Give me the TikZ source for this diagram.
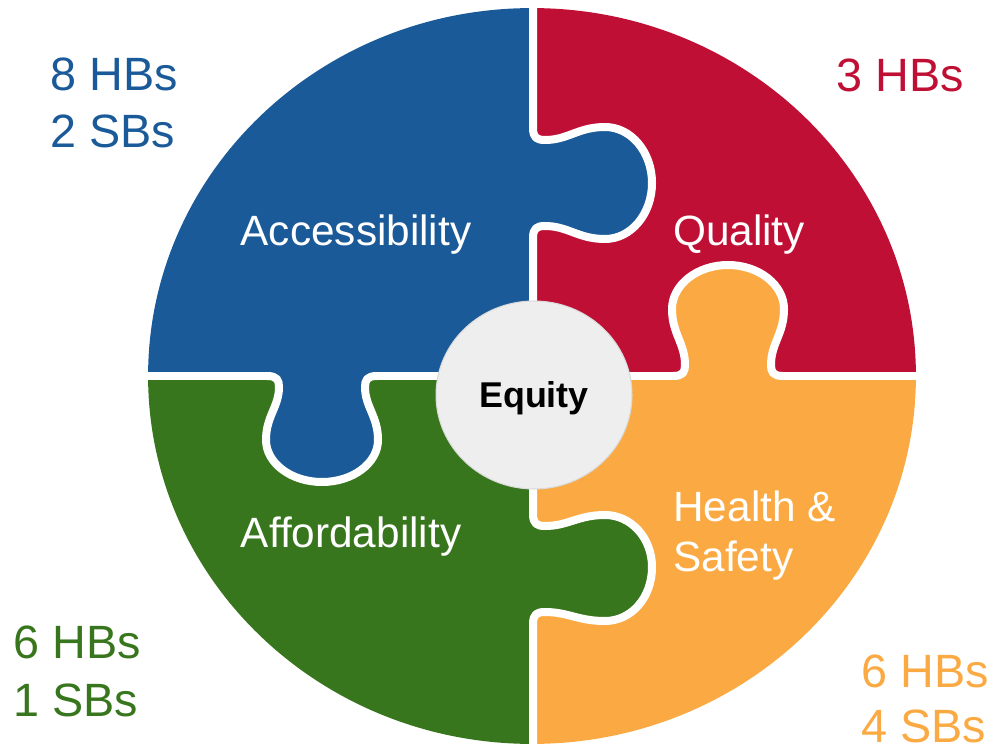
\documentclass[tikz,border=0pt]{standalone}
\usepackage{fontspec}
\setmainfont{Liberation Sans}
\usetikzlibrary{shapes.geometric}
\definecolor{accblue}{RGB}{27,90,152}
\definecolor{qualred}{RGB}{192,15,53}
\definecolor{affgreen}{RGB}{56,118,30}
\definecolor{hsorange}{RGB}{251,170,67}
\definecolor{eqgrey}{RGB}{238,238,238}
\definecolor{eqline}{RGB}{218,218,218}
\begin{document}
\begin{tikzpicture}[x=0.02cm,y=-0.02cm,
	cut/.style={draw=white,line width=0.16cm,line join=round},
	piece/.style={text=white,inner sep=0pt,font=\fontsize{24.1}{28.3}\selectfont},
	count/.style={inner sep=0pt,align=left,font=\fontsize{26.6}{32.5}\selectfont}]
	\useasboundingbox (0,0) rectangle (996,749);
	
	\begin{scope}
		\clip (532,376) ellipse (7.68cm and 7.36cm);
		%quarters
		\fill[accblue] (0,0) rectangle (533,376);
		\fill[qualred] (533,0) rectangle (996,376);
		\fill[affgreen] (0,376) rectangle (533,749);
		\fill[hsorange] (533,376) rectangle (996,749);
		
		%tabs
		\fill[accblue] (533,-20) -- (533,128) .. controls (533,138) and (537,140) .. (545,140) 
		.. controls (568,140) and (578,127) .. (605,127) .. controls (631,127) and (652,152) .. (652,183) 
		.. controls (652,214) and (631,239) .. (605,239) .. controls (578,239) and (568,226) .. (545,226) 
		.. controls (537,226) and (533,228) .. (533,238) -- (533,376) -- cycle;
		\fill[affgreen] (533,376) -- (533,514) .. controls (533,524) and (537,526) .. (545,526) 
		.. controls (568,526) and (578,515) .. (605,515) .. controls (631,515) and (652,538) .. (652,567) 
		.. controls (652,598) and (631,621) .. (605,621) .. controls (578,621) and (568,612) .. (545,612) 
		.. controls (537,612) and (533,614) .. (533,624) -- (533,770) -- cycle;
		\fill[accblue] (130,376) -- (267,376) .. controls (277,376) and (279,380) .. (279,387) 
		.. controls (279,407) and (266,416) .. (266,440) .. controls (266,463) and (291,482) .. (322,482) 
		.. controls (353,482) and (378,463) .. (378,440) .. controls (378,416) and (365,407) .. (365,387) 
		.. controls (365,380) and (367,376) .. (377,376) -- (533,376) -- cycle;
		\fill[hsorange] (533,376) -- (673,376) .. controls (683,376) and (685,372) .. (685,365) 
		.. controls (685,343) and (672,334) .. (672,309) .. controls (672,285) and (697,265) .. (728,265) 
		.. controls (759,265) and (784,285) .. (784,309) .. controls (784,334) and (771,343) .. (771,365) 
		.. controls (771,372) and (773,376) .. (783,376) -- (930,376) -- cycle;
		
		%white cuts
		\draw[cut] (533,-20) -- (533,128) .. controls (533,138) and (537,140) .. (545,140) 
		.. controls (568,140) and (578,127) .. (605,127) .. controls (631,127) and (652,152) .. (652,183) 
		.. controls (652,214) and (631,239) .. (605,239) .. controls (578,239) and (568,226) .. (545,226) 
		.. controls (537,226) and (533,228) .. (533,238) -- (533,376);
		\draw[cut] (533,376) -- (533,514) .. controls (533,524) and (537,526) .. (545,526) 
		.. controls (568,526) and (578,515) .. (605,515) .. controls (631,515) and (652,538) .. (652,567) 
		.. controls (652,598) and (631,621) .. (605,621) .. controls (578,621) and (568,612) .. (545,612) 
		.. controls (537,612) and (533,614) .. (533,624) -- (533,770);
		\draw[cut] (130,376) -- (267,376) .. controls (277,376) and (279,380) .. (279,387) 
		.. controls (279,407) and (266,416) .. (266,440) .. controls (266,463) and (291,482) .. (322,482) 
		.. controls (353,482) and (378,463) .. (378,440) .. controls (378,416) and (365,407) .. (365,387) 
		.. controls (365,380) and (367,376) .. (377,376) -- (533,376);
		\draw[cut] (533,376) -- (673,376) .. controls (683,376) and (685,372) .. (685,365) 
		.. controls (685,343) and (672,334) .. (672,309) .. controls (672,285) and (697,265) .. (728,265) 
		.. controls (759,265) and (784,285) .. (784,309) .. controls (784,334) and (771,343) .. (771,365) 
		.. controls (771,372) and (773,376) .. (783,376) -- (930,376);
	\end{scope}
	
	\node[ellipse,fill=eqgrey,draw=eqline,line width=0.6pt,inner sep=0pt,
	minimum width=3.92cm,minimum height=3.76cm,text depth=0pt,
	font=\fontsize{20.4}{24}\bfseries] (equity) at (534,395) {Equity};
	
	\node[piece,anchor=base] (access) at (356,246) {Accessibility};
	\node[piece,anchor=base] (quality) at (739,246) {Quality};
	\node[piece,anchor=base] (afford) at (351,547) {Affordability};
	\node[piece,anchor=base west,align=left] (health) at (673,571) {Health \&\\Safety};
	
	\node[count,text=accblue,anchor=base west] (accnum) at (50,148) {8 HBs\\2 SBs};
	\node[count,text=qualred,anchor=base west] (qualnum) at (836,92) {3 HBs};
	\node[count,text=affgreen,anchor=base west] (affnum) at (13,716) {6 HBs\\1 SBs};
	\node[count,text=hsorange,anchor=base west,text depth=0pt,
	font=\fontsize{26.6}{31.2}\selectfont] (hsnum) at (861,742) {6 HBs\\4 SBs};
\end{tikzpicture}
\end{document}
